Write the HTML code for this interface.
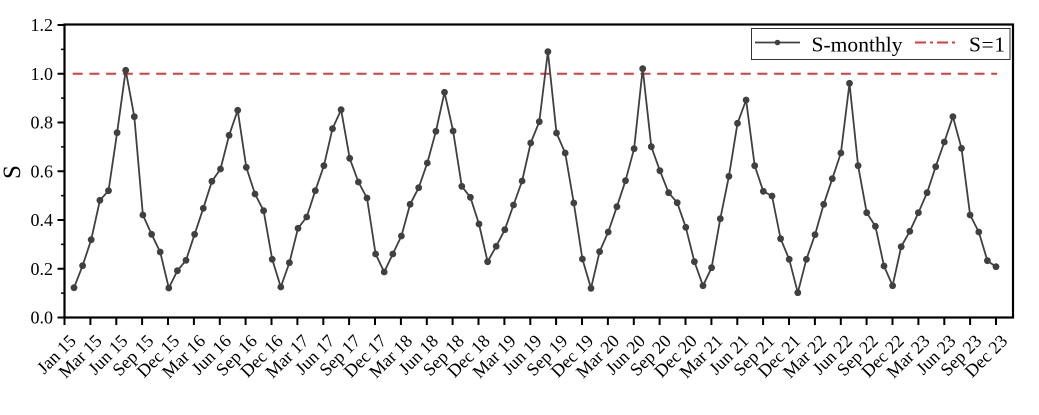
<!DOCTYPE html>
<html>
<head>
<meta charset="utf-8">
<style>
html,body{margin:0;padding:0;background:#fff;}
svg{display:block;font-family:"Liberation Serif","Noto Serif CJK SC","DejaVu Serif",serif;}
svg text{font-family:"Liberation Serif","Noto Serif CJK SC","DejaVu Serif",serif;fill:#000;}
</style>
</head>
<body>
<svg width="1039" height="415" viewBox="0 0 1039 415" xmlns="http://www.w3.org/2000/svg">
<defs>
<marker id="m" markerWidth="8" markerHeight="8" refX="4" refY="4" markerUnits="userSpaceOnUse">
<circle cx="4" cy="4" r="3.4" fill="#404040"/>
</marker>
</defs>
<rect x="0" y="0" width="1039" height="415" fill="#fff"/>

<!-- reference line S=1 -->
<line x1="72.7" y1="73.75" x2="997" y2="73.75" stroke="#d43f3f" stroke-width="2" stroke-dasharray="10 6.7"/>

<!-- data series -->
<polyline fill="none" stroke="#404040" stroke-width="1.8" stroke-linejoin="round" marker-start="url(#m)" marker-mid="url(#m)" marker-end="url(#m)" points="
74.0,287.7 82.6,265.7 91.2,239.7 99.9,200.3 108.5,190.7 117.1,132.7 125.7,70.3 134.3,116.7 142.9,215 151.6,234.3 160.2,252 168.8,288
177.4,270.7 186.0,260.3 194.6,234.3 203.3,208.3 211.9,181.3 220.5,169 229.1,135.3 237.7,110.3 246.3,167.3 255.0,194 263.6,210.7 272.2,259.3
280.8,287 289.4,262.7 298.0,228.3 306.7,217 315.3,190.7 323.9,165.7 332.5,128.7 341.1,109.7 349.7,158.3 358.4,182 367.0,198 375.6,254
384.2,272 392.8,254 401.4,236 410.1,204.3 418.7,187.7 427.3,163 435.9,131.3 444.5,92.3 453.1,131 461.8,186.3 470.4,197.3 479.0,224
487.6,261.7 496.2,246.3 504.8,229.7 513.5,205 522.1,181 530.7,143 539.3,121.7 547.9,51.7 556.5,133 565.2,153 573.8,203 582.4,259
591.0,288.3 599.6,251.7 608.2,232 616.9,206.7 625.5,180.7 634.1,148.7 642.7,68.7 651.3,146.7 659.9,170.7 668.6,192.7 677.2,202.7 685.8,227.3
694.4,261.7 703.0,285.7 711.6,267.7 720.3,218.7 728.9,176.3 737.5,123.3 746.1,100 754.7,165.7 763.3,191.3 772.0,196 780.6,238.7 789.2,259.3
797.8,292.7 806.4,259.3 815.0,234.7 823.7,204.3 832.3,178.7 840.9,153 849.5,83.3 858.1,165.7 866.7,212.7 875.4,226.3 884.0,266 892.6,285.7
901.2,246.7 909.8,231.3 918.4,212.7 927.1,192.7 935.7,166.7 944.3,142 952.9,116.7 961.5,148.3 970.1,215 978.8,232 987.4,260.7 996.0,266.7"/>

<!-- frame -->
<rect x="64.5" y="24.5" width="948.5" height="293" fill="none" stroke="#000" stroke-width="2.2"/>

<!-- y ticks -->
<path d="M57.5 317.5H64.5 M57.5 268.75H64.5 M57.5 220H64.5 M57.5 171.25H64.5 M57.5 122.5H64.5 M57.5 73.75H64.5 M57.5 25H64.5" stroke="#000" stroke-width="2"/>
<path d="M61 293.1H64.5 M61 244.4H64.5 M61 195.6H64.5 M61 146.9H64.5 M61 98.1H64.5 M61 49.4H64.5" stroke="#000" stroke-width="1.5"/>

<!-- y labels -->
<g font-size="18" text-anchor="end">
<text x="53" y="323.5" textLength="22.5">0.0</text>
<text x="53" y="274.75" textLength="22.5">0.2</text>
<text x="53" y="226" textLength="22.5">0.4</text>
<text x="53" y="177.25" textLength="22.5">0.6</text>
<text x="53" y="128.5" textLength="22.5">0.8</text>
<text x="53" y="79.75" textLength="22.5">1.0</text>
<text x="53" y="31" textLength="22.5">1.2</text>
</g>
<text transform="translate(20,172) rotate(-90)" font-size="25" text-anchor="middle">S</text>

<!-- x ticks -->
<path stroke="#000" stroke-width="2" d="M64.5 317.5v7.5 M90.4 317.5v7.5 M116.3 317.5v7.5 M142.1 317.5v7.5 M168.0 317.5v7.5 M193.9 317.5v7.5 M219.8 317.5v7.5 M245.6 317.5v7.5 M271.5 317.5v7.5 M297.4 317.5v7.5 M323.3 317.5v7.5 M349.1 317.5v7.5 M375.0 317.5v7.5 M400.9 317.5v7.5 M426.8 317.5v7.5 M452.6 317.5v7.5 M478.5 317.5v7.5 M504.4 317.5v7.5 M530.3 317.5v7.5 M556.1 317.5v7.5 M582.0 317.5v7.5 M607.9 317.5v7.5 M633.8 317.5v7.5 M659.6 317.5v7.5 M685.5 317.5v7.5 M711.4 317.5v7.5 M737.3 317.5v7.5 M763.1 317.5v7.5 M789.0 317.5v7.5 M814.9 317.5v7.5 M840.8 317.5v7.5 M866.6 317.5v7.5 M892.5 317.5v7.5 M918.4 317.5v7.5 M944.3 317.5v7.5 M970.1 317.5v7.5 M996.0 317.5v7.5"/>

<!-- x labels -->
<g font-size="18" text-anchor="end">
<text transform="translate(77.0,342) rotate(-45)" textLength="46.5">Jan 15</text>
<text transform="translate(102.9,342) rotate(-45)" textLength="52.5">Mar 15</text>
<text transform="translate(128.8,342) rotate(-45)" textLength="47.5">Jun 15</text>
<text transform="translate(154.6,342) rotate(-45)" textLength="49.5">Sep 15</text>
<text transform="translate(180.5,342) rotate(-45)" textLength="51.5">Dec 15</text>
<text transform="translate(206.4,342) rotate(-45)" textLength="52.5">Mar 16</text>
<text transform="translate(232.3,342) rotate(-45)" textLength="47.5">Jun 16</text>
<text transform="translate(258.1,342) rotate(-45)" textLength="49.5">Sep 16</text>
<text transform="translate(284.0,342) rotate(-45)" textLength="51.5">Dec 16</text>
<text transform="translate(309.9,342) rotate(-45)" textLength="52.5">Mar 17</text>
<text transform="translate(335.8,342) rotate(-45)" textLength="47.5">Jun 17</text>
<text transform="translate(361.6,342) rotate(-45)" textLength="49.5">Sep 17</text>
<text transform="translate(387.5,342) rotate(-45)" textLength="51.5">Dec 17</text>
<text transform="translate(413.4,342) rotate(-45)" textLength="52.5">Mar 18</text>
<text transform="translate(439.3,342) rotate(-45)" textLength="47.5">Jun 18</text>
<text transform="translate(465.1,342) rotate(-45)" textLength="49.5">Sep 18</text>
<text transform="translate(491.0,342) rotate(-45)" textLength="51.5">Dec 18</text>
<text transform="translate(516.9,342) rotate(-45)" textLength="52.5">Mar 19</text>
<text transform="translate(542.8,342) rotate(-45)" textLength="47.5">Jun 19</text>
<text transform="translate(568.6,342) rotate(-45)" textLength="49.5">Sep 19</text>
<text transform="translate(594.5,342) rotate(-45)" textLength="51.5">Dec 19</text>
<text transform="translate(620.4,342) rotate(-45)" textLength="52.5">Mar 20</text>
<text transform="translate(646.3,342) rotate(-45)" textLength="47.5">Jun 20</text>
<text transform="translate(672.1,342) rotate(-45)" textLength="49.5">Sep 20</text>
<text transform="translate(698.0,342) rotate(-45)" textLength="51.5">Dec 20</text>
<text transform="translate(723.9,342) rotate(-45)" textLength="52.5">Mar 21</text>
<text transform="translate(749.8,342) rotate(-45)" textLength="47.5">Jun 21</text>
<text transform="translate(775.6,342) rotate(-45)" textLength="49.5">Sep 21</text>
<text transform="translate(801.5,342) rotate(-45)" textLength="51.5">Dec 21</text>
<text transform="translate(827.4,342) rotate(-45)" textLength="52.5">Mar 22</text>
<text transform="translate(853.3,342) rotate(-45)" textLength="47.5">Jun 22</text>
<text transform="translate(879.1,342) rotate(-45)" textLength="49.5">Sep 22</text>
<text transform="translate(905.0,342) rotate(-45)" textLength="51.5">Dec 22</text>
<text transform="translate(930.9,342) rotate(-45)" textLength="52.5">Mar 23</text>
<text transform="translate(956.8,342) rotate(-45)" textLength="47.5">Jun 23</text>
<text transform="translate(982.6,342) rotate(-45)" textLength="49.5">Sep 23</text>
<text transform="translate(1008.5,342) rotate(-45)" textLength="51.5">Dec 23</text>
</g>

<!-- legend -->
<rect x="751.5" y="28.5" width="258.5" height="31" fill="#fff" stroke="#333" stroke-width="1"/>
<line x1="755" y1="42.5" x2="800" y2="42.5" stroke="#404040" stroke-width="1.8"/>
<circle cx="777.5" cy="42.5" r="2.8" fill="#404040"/>
<text x="811.5" y="51.5" font-size="21.5" textLength="91">S-monthly</text>
<line x1="915" y1="42.5" x2="958" y2="42.5" stroke="#d43f3f" stroke-width="2" stroke-dasharray="11 4 3 4"/>
<text x="969" y="51.5" font-size="21.5" textLength="36">S=1</text>
</svg>
</body>
</html>
